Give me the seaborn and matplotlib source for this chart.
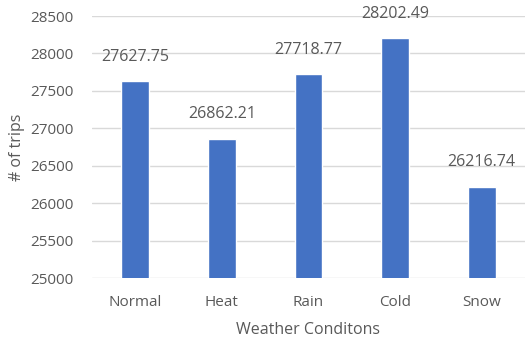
import matplotlib
matplotlib.use('Agg')
import matplotlib.pyplot as plt
import seaborn as sns
import pandas as pd

conditions = ['Normal', 'Heat', 'Rain', 'Cold', 'Snow']
trips = [27627.75, 26862.21, 27718.77, 28202.49, 26216.74]
y_ticks = [25000, 25500, 26000, 26500, 27000, 27500, 28000, 28500]

sns.set_style('white')
plt.rcParams['font.family'] = ['Open Sans', 'DejaVu Sans']

df = pd.DataFrame({'Condition': conditions, 'Trips': trips})

fig = plt.figure(figsize=(5.29, 3.39), dpi=100)
ax = fig.add_axes([92 / 529, 1 - 278 / 339, 433 / 529, 262 / 339])

sns.barplot(data=df, x='Condition', y='Trips', color='#4472C4', width=0.32,
            saturation=1, ax=ax, zorder=3)

ax.set_ylim(25000, 28500)
ax.set_xlim(-0.5, 4.5)
ax.set_yticks(y_ticks)
ax.yaxis.grid(True, color='#D9D9D9', linewidth=1, zorder=0)
for s in ax.spines.values():
    s.set_visible(False)
ax.tick_params(axis='both', length=0, colors='#595959', labelsize=11)
ax.tick_params(axis='x', pad=12)
ax.tick_params(axis='y', pad=13)

for i, v in enumerate(trips):
    ax.annotate(f'{v:.2f}', (i, v), xytext=(0, 12), textcoords='offset points',
                ha='center', va='bottom', fontsize=11.5, color='#595959')

ax.set_xlabel('Weather Conditons', fontsize=11.5, color='#595959', labelpad=9)
ax.set_ylabel('# of trips', fontsize=11.5, color='#595959', labelpad=4)

fig.savefig('out.png', dpi=100)
